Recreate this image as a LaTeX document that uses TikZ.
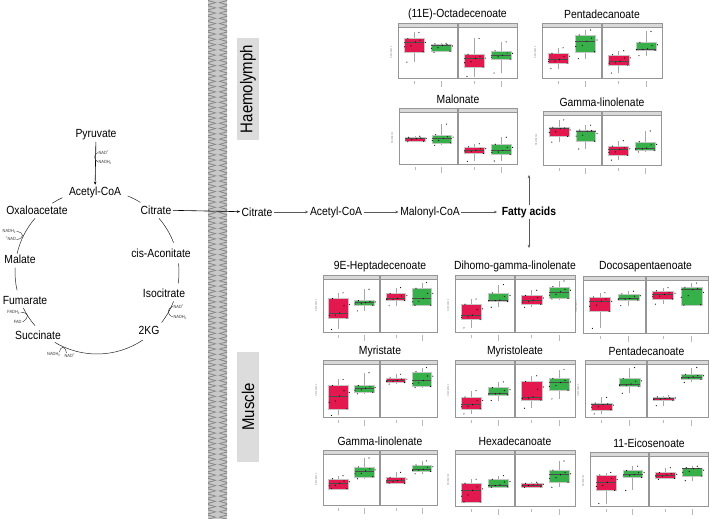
\documentclass[tikz,border=0pt]{standalone}
\usepackage{fontspec}
\setmainfont[FakeStretch=0.88]{Liberation Sans}
\usetikzlibrary{arrows.meta}
\definecolor{redbox}{RGB}{226,24,78}
\definecolor{greenbox}{RGB}{56,176,74}
\definecolor{stripc}{RGB}{217,217,217}
\definecolor{framec}{RGB}{150,150,150}
\definecolor{labelbg}{RGB}{220,220,220}
\definecolor{memlight}{RGB}{200,200,200}
\definecolor{memdark}{RGB}{135,135,135}
\newcommand\fs[1]{\fontsize{#1}{#1}\selectfont}
\tikzset{
  pw/.style={font=\fs{11.8}, inner sep=1.5pt},
  cof/.style={font=\fs{4.5}, inner sep=0.3pt, text=black!80},
  ttl/.style={font=\fs{11.8}, inner sep=0pt},
  arr/.style={-{Stealth[length=3.2pt,width=2.6pt]}, line width=0.6pt},
  garr/.style={-{Stealth[length=3.2pt,width=2.6pt]}, line width=0.6pt, draw=black!65},
  cyc/.style={line width=0.5pt, draw=black!85},
  hook/.style={line width=0.4pt, draw=black!85},
  whisk/.style={line width=0.4pt, draw=gray!70},
  medl/.style={line width=0.55pt, draw=black!70},
  dotc/.style={fill=black},
  reglbl/.style={font=\fs{17}, fill=labelbg, inner sep=0pt, rotate=90, minimum height=22}
}
\newcommand\panel[6]{%
 \pgfmathsetmacro\pL{#1}%
 \pgfmathsetmacro\pT{#2}%
 \pgfmathsetmacro\pR{#3}%
 \pgfmathsetmacro\pB{#4}%
 \pgfmathsetmacro\pM{(\pL+\pR)/2}%
 \pgfmathsetmacro\pS{\pT+4}%
 \pgfmathsetmacro\pH{\pB-\pS-1.5}%
 \pgfmathsetmacro\pW{\pM-0.6-\pL}%
 \fill[stripc, draw=framec, line width=0.3pt] (\pL,\pT) rectangle (\pM-0.6,\pS);
 \fill[stripc, draw=framec, line width=0.3pt] (\pM+0.6,\pT) rectangle (\pR,\pS);
 \draw[framec, line width=0.4pt] (\pL,\pS) rectangle (\pM-0.6,\pB);
 \draw[framec, line width=0.4pt] (\pM+0.6,\pS) rectangle (\pR,\pB);
 \node[ttl] (#6) at ({(\pL+\pR)/2},\pT-9) {#5};
 \node[font=\fs{2.6}, text=gray, rotate=90, inner sep=0pt] (#6y) at (\pL-7,{(\pS+\pB)/2}) {Abundance};
}
\newcommand\bx[7]{%
 \pgfmathsetmacro\cx{\pL + #1*(\pW+1.2) + \pW*(0.27+0.46*#2)}%
 \pgfmathsetmacro\hw{\pW*0.17}%
 \pgfmathsetmacro\ya{\pB-#3*\pH}%
 \pgfmathsetmacro\yb{\pB-#4*\pH}%
 \pgfmathsetmacro\yc{\pB-#5*\pH}%
 \pgfmathsetmacro\yd{\pB-#6*\pH}%
 \pgfmathsetmacro\ye{\pB-#7*\pH}%
 \ifnum#2=0 \def\bcol{redbox}\else\def\bcol{greenbox}\fi
 \draw[whisk] (\cx,\ya) -- (\cx,\yb) (\cx,\yd) -- (\cx,\ye);
 \fill[\bcol, draw=gray!45, line width=0.3pt] (\cx-\hw,\yb) rectangle (\cx+\hw,\yd);
 \draw[medl] (\cx-\hw,\yc) -- (\cx+\hw,\yc);
 \fill[dotc] (\cx-0.7*\hw,\ya) circle (0.6);
 \fill[dotc] (\cx+0.5*\hw,\ye) circle (0.6);
 \fill[dotc] (\cx+0.9*\hw,\yb) circle (0.6);
 \fill[dotc] (\cx-0.6*\hw,\yd) circle (0.6);
 \fill[dotc] (\cx+0.15*\hw,\yc) circle (0.6);
 \fill[dotc] (\cx-0.95*\hw,{(\yb+\yc)/2}) circle (0.6);
 \fill[dotc] (\cx+0.6*\hw,{(\yc+\yd)/2}) circle (0.6);
 \fill[dotc] (\cx+1.15*\hw,{0.3*\yb+0.7*\yd}) circle (0.6);
 \fill[dotc] (\cx-0.3*\hw,{0.4*\yb+0.6*\yc}) circle (0.6);
 \draw[gray!55, line width=0.4pt] (\cx,\pB+3) -- (\cx,{\pB+6+3*#2});
}
\newcommand\cycarc[2]{\draw[cyc] (97,272) ++(-#1:82) arc[start angle=-#1, end angle=-#2, radius=82];}
\begin{document}
\begin{tikzpicture}[x=1pt,y=-1pt]
\useasboundingbox (0,0) rectangle (710,519);
\fill[white] (0,0) rectangle (710,519);
% membrane
\fill[memlight] (208,0) rectangle (227,519);
\foreach \i in {0,...,99} {
  \pgfmathsetmacro\yy{\i*5.25}
  \fill[memdark] (208,\yy) -- (216.8,\yy+2.6) -- (208,\yy+5.2) -- (208,\yy+4.1) -- (214.6,\yy+2.6) -- (208,\yy+1.1) -- cycle;
  \fill[memdark] (227,\yy) -- (218.2,\yy+2.6) -- (227,\yy+5.2) -- (227,\yy+4.1) -- (220.4,\yy+2.6) -- (227,\yy+1.1) -- cycle;
}
% region labels
\node[reglbl, minimum width=102] (haem) at (248,89) {Haemolymph};
\node[reglbl, minimum width=110] (musc) at (248,407) {Muscle};
% TCA cycle
\node[pw] (pyr) at (96,135) {Pyruvate};
\node[pw] (acoa) at (95,192) {Acetyl-CoA};
\node[pw] (oxa) at (37,210) {Oxaloacetate};
\node[pw] (cit) at (156,210) {Citrate};
\node[pw] (cis) at (161,253) {cis-Aconitate};
\node[pw] (iso) at (164,293) {Isocitrate};
\node[pw] (kg) at (149,330) {2KG};
\node[pw] (suc) at (38,335) {Succinate};
\node[pw] (fum) at (25,300) {Fumarate};
\node[pw] (mlt) at (20,259) {Malate};
\draw[arr] (pyr) -- (acoa);
\cycarc{68}{58}
\cycarc{41}{21}
\cycarc{6}{-8}
\cycarc{-21}{-38}
\cycarc{-56}{-121}
\cycarc{-139}{-154}
\cycarc{193}{177}
\cycarc{167}{139}
\cycarc{123}{115}
% cofactors
\node[cof, anchor=west] (c1) at (98,152.5) {NAD\textsuperscript{+}};
\node[cof, anchor=west] (c2) at (98,162) {NADH\textsubscript{2}};
\draw[hook] (98,152.5) .. controls (93.5,154) and (93.5,160) .. (98,162);
\node[cof, anchor=east] (c3) at (16.5,231.5) {NADH\textsubscript{2}};
\node[cof, anchor=east] (c4) at (16.5,239) {\textsuperscript{+}NAD};
\draw[hook] (16.5,231.5) .. controls (24.5,232) and (24.5,239) .. (16.5,239.5);
\node[cof, anchor=east] (c5) at (20.5,312.5) {FADH\textsubscript{2}};
\node[cof, anchor=east] (c6) at (22,322) {FAD};
\draw[hook] (20.5,312.5) .. controls (29.5,312) and (29.5,318) .. (22.5,322);
\node[cof, anchor=east] (c7) at (61,354) {NADH\textsubscript{2}};
\node[cof, anchor=west] (c8) at (64,356) {NAD\textsuperscript{+}};
\draw[hook] (59.5,352) .. controls (61,345.5) and (65,345.5) .. (66.5,353);
\node[cof, anchor=west] (c9) at (173,306.5) {NAD\textsuperscript{+}};
\node[cof, anchor=west] (c10) at (173,317) {NADH\textsubscript{2}};
\draw[hook] (173,306.5) .. controls (166.5,309) and (166.5,314.5) .. (173,317);
% pathway
\node[pw] (cit2) at (257,212) {Citrate};
\node[pw] (acoa2) at (336,212) {Acetyl-CoA};
\node[pw] (mal) at (430,212) {Malonyl-CoA};
\node[pw, font=\fs{11.8}\bfseries] (fa) at (529,212) {Fatty acids};
\coordinate (faup) at (529,175);
\coordinate (fadn) at (529,248);
\draw[arr] (cit) -- (cit2);
\draw[garr] (cit2) -- (acoa2);
\draw[garr] (acoa2) -- (mal);
\draw[garr] (mal) -- ([xshift=-3pt]fa.west);
\draw[garr] (fa) -- (faup);
\draw[garr] (fa) -- (fadn);
% haemolymph plots
\panel{398}{23}{517}{78}{(11E)-Octadecenoate}{p1}
\bx{0}{0}{0.32}{0.53}{0.73}{0.80}{0.92}
\bx{0}{1}{0.52}{0.54}{0.66}{0.69}{0.70}
\bx{1}{0}{0.03}{0.22}{0.40}{0.48}{0.80}
\bx{1}{1}{0.10}{0.38}{0.46}{0.55}{0.73}
\panel{542}{23}{662}{78}{Pentadecanoate}{p2}
\bx{0}{0}{0.19}{0.30}{0.37}{0.50}{0.61}
\bx{0}{1}{0.39}{0.53}{0.74}{0.87}{0.97}
\bx{1}{0}{0.10}{0.26}{0.34}{0.47}{0.55}
\bx{1}{1}{0.45}{0.56}{0.59}{0.72}{0.94}
\panel{399}{108}{517}{164}{Malonate}{p3}
\bx{0}{0}{0.44}{0.45}{0.50}{0.53}{0.55}
\bx{0}{1}{0.37}{0.42}{0.50}{0.58}{0.79}
\bx{1}{0}{0.05}{0.21}{0.27}{0.34}{0.40}
\bx{1}{1}{0.06}{0.19}{0.27}{0.39}{0.53}
\panel{543}{111}{661}{165}{Gamma-linolenate}{p4}
\bx{0}{0}{0.47}{0.59}{0.75}{0.78}{0.93}
\bx{0}{1}{0.33}{0.49}{0.70}{0.72}{0.82}
\bx{1}{0}{0.10}{0.20}{0.32}{0.39}{0.50}
\bx{1}{1}{0.27}{0.30}{0.35}{0.48}{0.70}
% muscle plots row 1
\panel{323}{275}{437}{332}{9E-Heptadecenoate}{m1}
\bx{0}{0}{0.05}{0.27}{0.37}{0.65}{0.76}
\bx{0}{1}{0.41}{0.52}{0.57}{0.61}{0.83}
\bx{1}{0}{0.51}{0.61}{0.65}{0.75}{0.86}
\bx{1}{1}{0.52}{0.52}{0.65}{0.85}{0.96}
\panel{455}{275}{575}{332}{Dihomo-gamma-linolenate}{m2}
\bx{0}{0}{0.08}{0.24}{0.33}{0.54}{0.64}
\bx{0}{1}{0.48}{0.59}{0.62}{0.76}{0.92}
\bx{1}{0}{0.48}{0.54}{0.62}{0.71}{0.81}
\bx{1}{1}{0.64}{0.65}{0.78}{0.88}{0.99}
\panel{583}{276}{708}{333}{Docosapentaenoate}{m3}
\bx{0}{0}{0.09}{0.42}{0.62}{0.70}{0.78}
\bx{0}{1}{0.53}{0.64}{0.67}{0.76}{0.81}
\bx{1}{0}{0.56}{0.66}{0.75}{0.82}{0.88}
\bx{1}{1}{0.54}{0.55}{0.84}{0.89}{0.97}
% row 2
\panel{323}{360}{437}{417}{Myristate}{m4}
\bx{0}{0}{0.03}{0.16}{0.41}{0.61}{0.73}
\bx{0}{1}{0.45}{0.48}{0.56}{0.61}{0.86}
\bx{1}{0}{0.64}{0.67}{0.71}{0.76}{0.83}
\bx{1}{1}{0.57}{0.59}{0.71}{0.88}{0.96}
\panel{455}{360}{575}{417}{Myristoleate}{m5}
\bx{0}{0}{0.06}{0.16}{0.24}{0.39}{0.51}
\bx{0}{1}{0.32}{0.43}{0.46}{0.57}{0.68}
\bx{1}{0}{0.17}{0.33}{0.39}{0.69}{0.80}
\bx{1}{1}{0.35}{0.52}{0.67}{0.75}{0.92}
\panel{585}{360}{708}{417}{Pentadecanoate}{m6}
\bx{0}{0}{0.06}{0.14}{0.24}{0.27}{0.38}
\bx{0}{1}{0.46}{0.59}{0.64}{0.75}{0.96}
\bx{1}{0}{0.22}{0.32}{0.36}{0.39}{0.41}
\bx{1}{1}{0.67}{0.73}{0.78}{0.83}{0.96}
% row 3
\panel{323}{450}{437}{505}{Gamma-linolenate}{m7}
\bx{0}{0}{0.33}{0.33}{0.44}{0.53}{0.59}
\bx{0}{1}{0.53}{0.57}{0.69}{0.77}{0.95}
\bx{1}{0}{0.44}{0.44}{0.49}{0.56}{0.66}
\bx{1}{1}{0.63}{0.68}{0.72}{0.81}{0.89}
\panel{455}{450}{575}{506}{Hexadecanoate}{m8}
\bx{0}{0}{0.08}{0.08}{0.31}{0.45}{0.53}
\bx{0}{1}{0.37}{0.38}{0.42}{0.53}{0.60}
\bx{1}{0}{0.37}{0.38}{0.42}{0.45}{0.47}
\bx{1}{1}{0.37}{0.47}{0.62}{0.71}{0.89}
\panel{590}{452}{708}{506}{11-Eicosenoate}{m9}
\bx{0}{0}{0.05}{0.32}{0.49}{0.64}{0.69}
\bx{0}{1}{0.32}{0.59}{0.65}{0.73}{0.82}
\bx{1}{0}{0.55}{0.57}{0.64}{0.69}{0.79}
\bx{1}{1}{0.52}{0.62}{0.77}{0.79}{0.82}
\end{tikzpicture}
\end{document}
